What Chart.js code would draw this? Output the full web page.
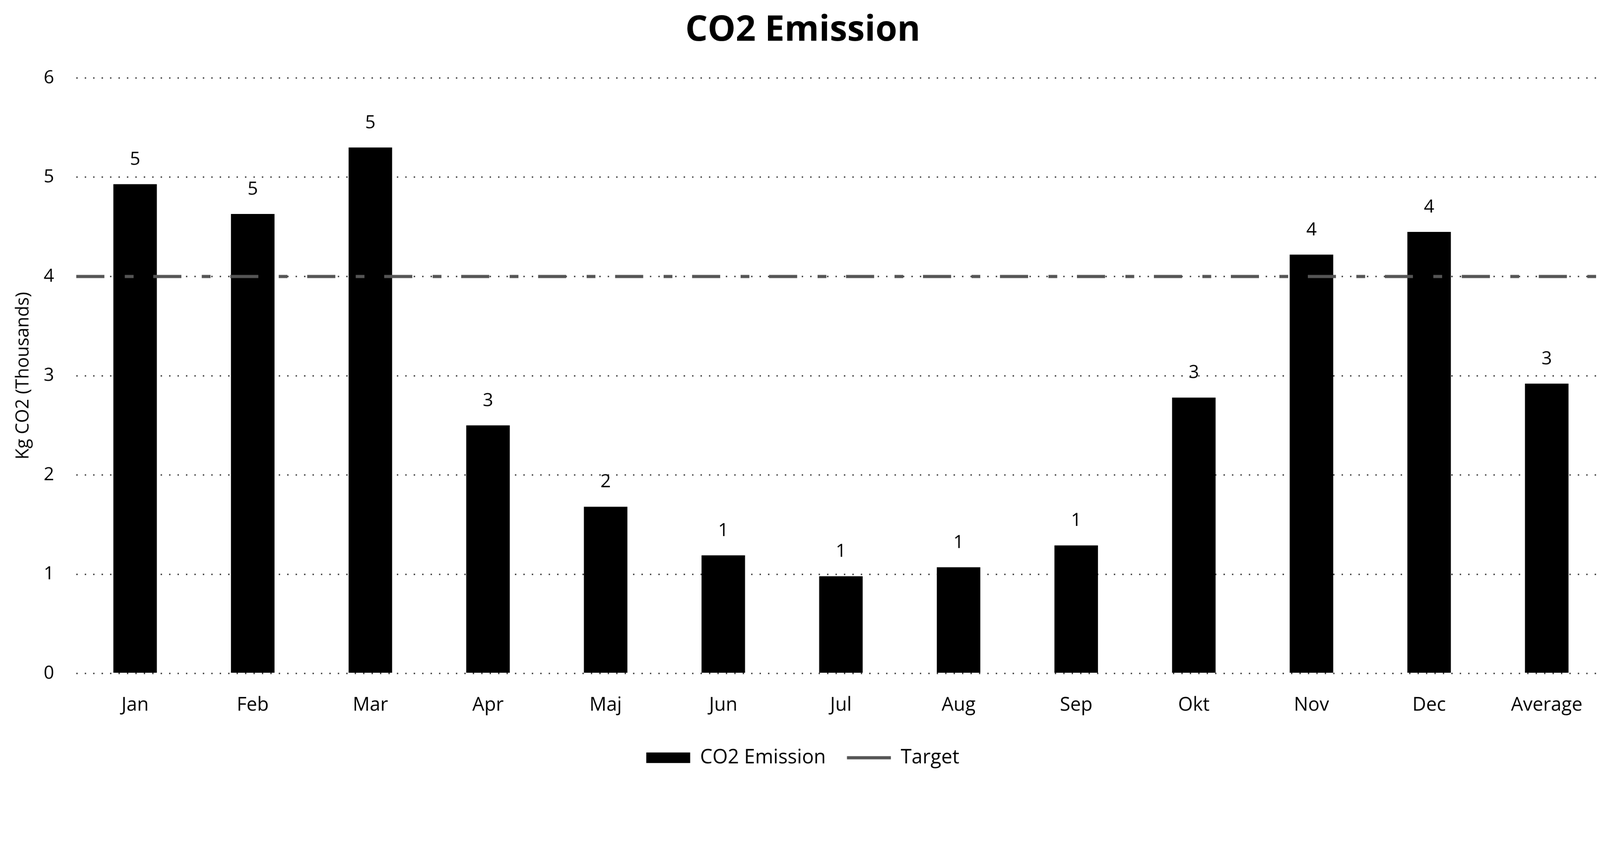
<!DOCTYPE html>
<html lang="en">
<head>
  <meta charset="UTF-8" />
  <title>CO2 Emission</title>
  <script src="https://cdn.jsdelivr.net/npm/chart.js"></script>
  <style>
    html, body { margin: 0; padding: 0; background: #fff; overflow: hidden; }
    canvas { display: block; }
  </style>
</head>
<body>
  <canvas id="co2Chart"></canvas>

  <script>
    // values (kg CO2, thousands)
    const months = ['Jan', 'Feb', 'Mar', 'Apr', 'Maj', 'Jun', 'Jul', 'Aug', 'Sep', 'Okt', 'Nov', 'Dec', 'Average'];
    const emission = [4.93, 4.63, 5.30, 2.50, 1.68, 1.19, 0.98, 1.07, 1.29, 2.78, 4.22, 4.45, 2.92];
    const target = [4, 4, 4, 4, 4, 4, 4, 4, 4, 4, 4, 4, 4];
    const yTicks = [0, 1, 2, 3, 4, 5, 6];

    Chart.defaults.font.family = '"Open Sans", sans-serif';
    Chart.defaults.color = '#000';

    // draw in reference pixels (4552 wide), canvas a bit wider so the last category is cut like the original
    const pageScale = window.innerWidth / 4552;
    const canvas = document.getElementById('co2Chart');
    canvas.width = 4600;
    canvas.height = 2195;
    canvas.style.width = (4600 * pageScale) + 'px';
    canvas.style.height = (2195 * pageScale) + 'px';

    // rounded value above each bar
    const barLabels = {
      id: 'barLabels',
      afterDatasetsDraw(chart) {
        const ctx = chart.ctx;
        const meta = chart.getDatasetMeta(0);
        ctx.save();
        ctx.font = '52px "Open Sans", sans-serif';
        ctx.fillStyle = '#000';
        ctx.textAlign = 'center';
        ctx.textBaseline = 'middle';
        meta.data.forEach((bar, i) => {
          ctx.fillText(String(Math.round(emission[i])), bar.x, bar.y - 70);
        });
        ctx.restore();
      }
    };

    new Chart(canvas.getContext('2d'), {
      type: 'bar',
      data: {
        labels: months,
        datasets: [
          {
            label: 'CO2 Emission',
            data: emission,
            backgroundColor: '#000',
            borderWidth: 0,
            grouped: false,
            categoryPercentage: 1,
            barPercentage: 0.37,
            pointStyle: 'rect',
            order: 2
          },
          {
            type: 'line',
            label: 'Target',
            data: target,
            xAxisID: 'x2',
            borderColor: '#555',
            borderWidth: 9,
            borderDash: [80, 58, 25, 56],
            pointRadius: 0,
            pointStyle: 'line',
            fill: false,
            order: 1
          }
        ]
      },
      options: {
        responsive: false,
        devicePixelRatio: 1,
        animation: false,
        layout: { padding: { left: 0, right: 32, top: 0, bottom: 0 } },
        plugins: {
          title: {
            display: true,
            text: 'CO2 Emission',
            font: { size: 100, weight: 'bold' },
            color: '#000',
            padding: { top: 28, bottom: 74 }
          },
          legend: {
            position: 'bottom',
            labels: {
              usePointStyle: true,
              pointStyleWidth: 125,
              boxHeight: 30,
              padding: 60,
              font: { size: 56 },
              color: '#000',
              sort: (a, b) => a.datasetIndex - b.datasetIndex
            }
          },
          tooltip: { enabled: false }
        },
        scales: {
          x: {
            grid: { display: false },
            border: { display: false },
            ticks: { padding: 50, font: { size: 54 }, maxRotation: 0, autoSkip: false },
            afterFit: s => { s.height = 152; }
          },
          x2: {
            type: 'category',
            labels: months,
            offset: false,
            display: false
          },
          y: {
            min: 0,
            max: 6,
            afterBuildTicks: s => { s.ticks = yTicks.map(v => ({ value: v })); },
            ticks: { padding: 63, font: { size: 52 } },
            grid: { color: '#444', lineWidth: 4, drawTicks: false },
            border: { display: false, dash: [4, 20] },
            title: {
              display: true,
              text: 'Kg CO2 (Thousands)',
              font: { size: 51 },
              padding: { top: 36, bottom: 0 }
            },
            afterFit: s => { s.width = 217; }
          }
        }
      },
      plugins: [barLabels]
    });
  </script>
</body>
</html>
